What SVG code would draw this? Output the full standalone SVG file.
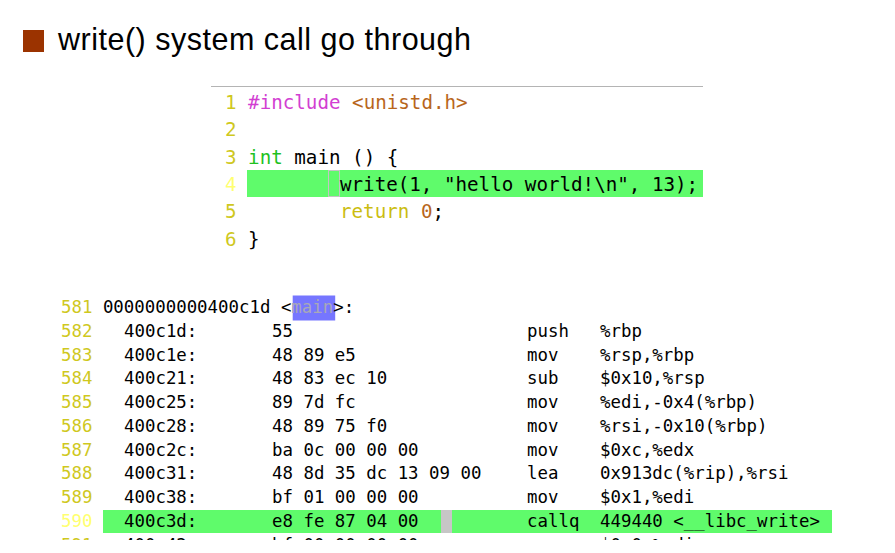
<svg xmlns="http://www.w3.org/2000/svg" width="895" height="553" viewBox="0 0 895 553">
<style>
.title{font-family:"Liberation Sans",Arial,sans-serif;font-size:30.5px;fill:#000}
.c{font-family:"DejaVu Sans Mono",monospace;font-size:19.2px;fill:#000;white-space:pre}
.d{font-family:"DejaVu Sans Mono",monospace;font-size:17.4px;fill:#000;white-space:pre}
.ln{fill:#cfc81e}
.lnh{fill:#ffff70}
.kw{fill:#d23fd2}
.str{fill:#b8661c}
.ty{fill:#1fc21f}
.ret{fill:#cbbd10}
.hl{fill:#5ffb6b}
</style>
<defs>
<clipPath id="clipBottom"><rect x="0" y="0" width="895" height="540"/></clipPath>
</defs>
<rect width="895" height="553" fill="#fff"/>
<g id="title">
<rect x="23" y="30" width="21" height="22" fill="#9b3300"/>
<text class="title" x="58" y="49.5" textLength="413" lengthAdjust="spacing">write() system call go through</text>
</g>
<g id="source">
<line x1="211" y1="86.5" x2="703" y2="86.5" stroke="#b4b4b4" stroke-width="1"/>
<rect class="hl" x="247" y="170" width="456" height="27"/>
<rect x="328.5" y="170.5" width="11" height="26" fill="none" stroke="#c4c4c4" stroke-width="1"/>
<text class="c" x="225" y="109"><tspan class="ln">1 </tspan><tspan class="kw">#include</tspan> <tspan class="str">&lt;unistd.h&gt;</tspan></text>
<text class="c" x="225" y="136.3"><tspan class="ln">2</tspan></text>
<text class="c" x="225" y="163.6"><tspan class="ln">3 </tspan><tspan class="ty">int</tspan> main () {</text>
<text class="c" x="225" y="191"><tspan class="lnh">4</tspan></text>
<text class="c" x="340" y="191">write(1, "hello world!\n", 13);</text>
<text class="c" x="225" y="218.3"><tspan class="ln">5</tspan></text>
<text class="c" x="340" y="218.3"><tspan class="ret">return</tspan> <tspan class="str">0</tspan>;</text>
<text class="c" x="225" y="245.6"><tspan class="ln">6 </tspan>}</text>
</g>
<g id="disasm">
<rect x="292.7" y="295.5" width="42.5" height="25" fill="#7676ff"/>
<rect class="hl" x="103" y="510" width="729" height="23"/>
<rect x="441" y="510" width="11" height="23" fill="#c6c6c6"/>
<text class="d" x="61" y="313"><tspan class="ln">581</tspan> 0000000000400c1d &lt;<tspan fill="#a8a8b8">main</tspan>&gt;:</text>
<g id="row582"><text class="d ln" x="61" y="336.8">582</text><text class="d" x="124" y="336.8">400c1d:</text><text class="d" x="272" y="336.8">55</text><text class="d" x="527" y="336.8">push</text><text class="d" x="600" y="336.8">%rbp</text></g>
<g id="row583"><text class="d ln" x="61" y="360.5">583</text><text class="d" x="124" y="360.5">400c1e:</text><text class="d" x="272" y="360.5">48 89 e5</text><text class="d" x="527" y="360.5">mov</text><text class="d" x="600" y="360.5">%rsp,%rbp</text></g>
<g id="row584"><text class="d ln" x="61" y="384.3">584</text><text class="d" x="124" y="384.3">400c21:</text><text class="d" x="272" y="384.3">48 83 ec 10</text><text class="d" x="527" y="384.3">sub</text><text class="d" x="600" y="384.3">$0x10,%rsp</text></g>
<g id="row585"><text class="d ln" x="61" y="408">585</text><text class="d" x="124" y="408">400c25:</text><text class="d" x="272" y="408">89 7d fc</text><text class="d" x="527" y="408">mov</text><text class="d" x="600" y="408">%edi,-0x4(%rbp)</text></g>
<g id="row586"><text class="d ln" x="61" y="431.8">586</text><text class="d" x="124" y="431.8">400c28:</text><text class="d" x="272" y="431.8">48 89 75 f0</text><text class="d" x="527" y="431.8">mov</text><text class="d" x="600" y="431.8">%rsi,-0x10(%rbp)</text></g>
<g id="row587"><text class="d ln" x="61" y="455.5">587</text><text class="d" x="124" y="455.5">400c2c:</text><text class="d" x="272" y="455.5">ba 0c 00 00 00</text><text class="d" x="527" y="455.5">mov</text><text class="d" x="600" y="455.5">$0xc,%edx</text></g>
<g id="row588"><text class="d ln" x="61" y="479.3">588</text><text class="d" x="124" y="479.3">400c31:</text><text class="d" x="272" y="479.3">48 8d 35 dc 13 09 00</text><text class="d" x="527" y="479.3">lea</text><text class="d" x="600" y="479.3">0x913dc(%rip),%rsi</text></g>
<g id="row589"><text class="d ln" x="61" y="503">589</text><text class="d" x="124" y="503">400c38:</text><text class="d" x="272" y="503">bf 01 00 00 00</text><text class="d" x="527" y="503">mov</text><text class="d" x="600" y="503">$0x1,%edi</text></g>
<g id="row590"><text class="d lnh" x="61" y="526.8">590</text><text class="d" x="124" y="526.8">400c3d:</text><text class="d" x="272" y="526.8">e8 fe 87 04 00</text><text class="d" x="527" y="526.8">callq</text><text class="d" x="600" y="526.8">449440 &lt;__libc_write&gt;</text></g>
<g id="row591" clip-path="url(#clipBottom)"><text class="d ln" x="61" y="550.5">591</text><text class="d" x="124" y="550.5">400c42:</text><text class="d" x="272" y="550.5">bf 00 00 00 00</text><text class="d" x="527" y="550.5">mov</text><text class="d" x="600" y="550.5">$0x0,%edi</text></g>
</g>
</svg>
